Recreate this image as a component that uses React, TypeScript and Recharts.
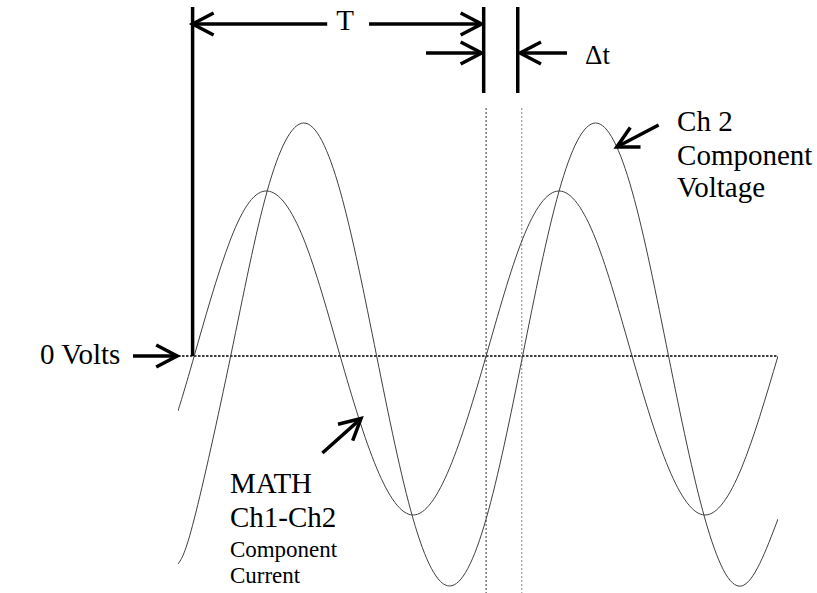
import React from "react";
import { LineChart, Line, XAxis, YAxis, ReferenceLine, ReferenceDot } from "recharts";

// Phase angle (degrees) measured from the MATH trace's rising zero crossing.
const phaseDeg = [-20, 0, 45, 90, 135, 180, 225, 270, 315, 360, 405, 450, 495, 540, 585, 630, 675, 720];
// MATH (Ch1-Ch2): component current, scope units.
const mathCurrent = [-0.55, 0, 1.17, 1.65, 1.17, 0, -1.12, -1.59, -1.12, 0, 1.17, 1.65, 1.17, 0, -1.12, -1.59, -1.12, 0];
// Ch 2: component voltage, scope units.
const ch2Voltage = [-2.08, -1.63, 0, 1.65, 2.33, 1.65, 0, -1.63, -2.3, -1.63, 0, 1.65, 2.33, 1.65, 0, -1.63, -2.3, -1.63];

const data = phaseDeg.map((deg, i) => ({ deg, current: mathCurrent[i], voltage: ch2Voltage[i] }));

const SERIF = '"Liberation Serif", "Times New Roman", serif';
const HEAD_LEN = 21;
const HEAD_HALF = 11;

// Thick arrow: tail at the first segment point, open head at the second.
const ArrowShape = (props: any) => {
  const { x1, y1, x2, y2 } = props;
  const dx = x2 - x1;
  const dy = y2 - y1;
  const len = Math.hypot(dx, dy) || 1;
  const ux = dx / len;
  const uy = dy / len;
  const bx = x2 - ux * HEAD_LEN;
  const by = y2 - uy * HEAD_LEN;
  const px = -uy * HEAD_HALF;
  const py = ux * HEAD_HALF;
  return (
    <g>
      <line x1={x1} y1={y1} x2={x2 - ux * 2} y2={y2 - uy * 2} stroke="#000" strokeWidth={3.5} />
      <polyline
        points={`${bx + px},${by + py} ${x2},${y2} ${bx - px},${by - py}`}
        fill="none"
        stroke="#000"
        strokeWidth={3.5}
        strokeLinejoin="miter"
        strokeLinecap="butt"
      />
    </g>
  );
};

const textShape = (label: string, size: number, anchor: string = "start") => (p: any) => (
  <text x={p.cx} y={p.cy} fontFamily={SERIF} fontSize={size} fill="#000" textAnchor={anchor}>
    {label}
  </text>
);

type Arrow = { from: [number, number]; to: [number, number] };
const arrows: Arrow[] = [
  { from: [164, 3.32], to: [-2, 3.32] },
  { from: [215.6, 3.32], to: [354.5, 3.32] },
  { from: [285.9, 3.03], to: [354.5, 3.03] },
  { from: [459.8, 3.03], to: [401.8, 3.03] },
  { from: [-75.5, 0], to: [-21, 0] },
  { from: [572.8, 2.31], to: [521.2, 2.09] },
  { from: [158.1, -0.97], to: [205.7, -0.625] },
];

type Caption = { x: number; y: number; text: string; size: number; anchor?: string };
const captions: Caption[] = [
  { x: 186, y: 3.26, text: "T", size: 29, anchor: "middle" },
  { x: 482, y: 2.92, text: "\u0394t", size: 27 },
  { x: -190.2, y: -0.08, text: "0 Volts", size: 29 },
  { x: 595.5, y: 2.25, text: "Ch 2", size: 29 },
  { x: 595.5, y: 1.91, text: "Component", size: 29 },
  { x: 595.5, y: 1.59, text: "Voltage", size: 29 },
  { x: 44, y: -1.37, text: "MATH", size: 29 },
  { x: 44, y: -1.71, text: "Ch1-Ch2", size: 29 },
  { x: 44, y: -2.01, text: "Component", size: 23 },
  { x: 44, y: -2.27, text: "Current", size: 23 },
];

export default function App() {
  return (
    <div style={{ position: "absolute", left: 0, top: 0, width: 817, height: 593, background: "#fff" }}>
      <LineChart width={817} height={593} data={data} margin={{ top: 0, right: 39, bottom: 0, left: 178 }}>
        <XAxis dataKey="deg" type="number" domain={[-20, 720]} hide allowDataOverflow />
        <YAxis type="number" domain={[-2.37, 3.56]} hide allowDataOverflow />

        {/* zero-volt reference */}
        <ReferenceLine y={0} stroke="#000" strokeWidth={1.6} strokeDasharray="2.5 1.5" ifOverflow="visible" />

        {/* cursors at the rising zero crossings */}
        <ReferenceLine segment={[{ x: 360, y: 2.48 }, { x: 360, y: -2.37 }]} stroke="#333" strokeWidth={1} strokeDasharray="2 2" ifOverflow="visible" />
        <ReferenceLine segment={[{ x: 404, y: 2.48 }, { x: 404, y: -2.37 }]} stroke="#888" strokeWidth={1} strokeDasharray="2 2" ifOverflow="visible" />

        {/* marker bars */}
        <ReferenceLine segment={[{ x: -2, y: 3.49 }, { x: -2, y: 0 }]} stroke="#000" strokeWidth={3.5} ifOverflow="visible" />
        <ReferenceLine segment={[{ x: 357, y: 3.49 }, { x: 357, y: 2.63 }]} stroke="#000" strokeWidth={3.5} ifOverflow="visible" />
        <ReferenceLine segment={[{ x: 399, y: 3.49 }, { x: 399, y: 2.63 }]} stroke="#000" strokeWidth={3.5} ifOverflow="visible" />

        <Line dataKey="voltage" type="natural" stroke="#404040" strokeWidth={1} dot={false} isAnimationActive={false} />
        <Line dataKey="current" type="natural" stroke="#404040" strokeWidth={1} dot={false} isAnimationActive={false} />

        {arrows.map((a, i) => (
          <ReferenceLine
            key={`arrow-${i}`}
            segment={[{ x: a.from[0], y: a.from[1] }, { x: a.to[0], y: a.to[1] }]}
            ifOverflow="visible"
            shape={ArrowShape}
          />
        ))}

        {captions.map((c, i) => (
          <ReferenceDot
            key={`cap-${i}`}
            x={c.x}
            y={c.y}
            r={0}
            ifOverflow="visible"
            shape={textShape(c.text, c.size, c.anchor)}
          />
        ))}
      </LineChart>
    </div>
  );
}
